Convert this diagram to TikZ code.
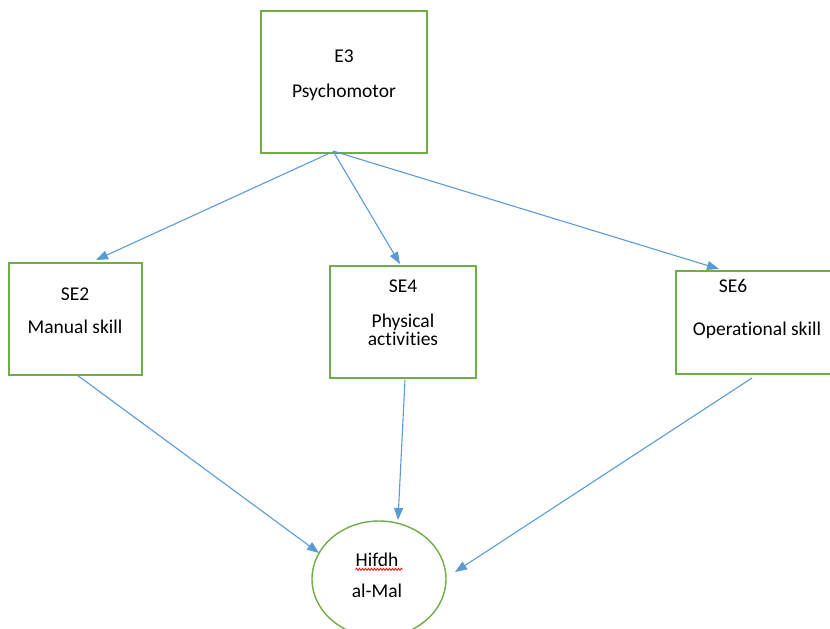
\documentclass[tikz,border=0pt]{standalone}
\usepackage{fontspec}
\setmainfont{Carlito}[RawFeature={-liga;-clig;-dlig;-calt}]
\usetikzlibrary{arrows.meta,decorations.pathmorphing}
\definecolor{boxgreen}{RGB}{112,173,71}
\definecolor{linkblue}{RGB}{91,155,213}
\begin{document}
\begin{tikzpicture}[x=1pt,y=-1pt,
  box/.style={draw=boxgreen,line width=1.4pt,fill=white},
  lbl/.style={anchor=base,inner sep=0pt,font=\fontsize{19.5}{22}\selectfont,text=black},
  link/.style={draw=linkblue,line width=1.1pt,-{Triangle[length=12pt,width=9pt]}}]
\useasboundingbox (0,0) rectangle (830,629);
\begin{scope}
\clip (0,0) rectangle (830,629);
% boxes
\draw[box] (261,11) rectangle (427,153);
\draw[box] (9,263) rectangle (142,375);
\draw[box] (330,266) rectangle (476,378);
\draw[box] (676,271) rectangle (840,374);
\draw[box] (379,579) ellipse [x radius=67, y radius=58];
% anchor points for the connectors
\coordinate (e3a) at (330,153);
\coordinate (e3b) at (333,151);
\coordinate (se2t) at (96,260);
\coordinate (se4t) at (400,264);
\coordinate (se6t) at (719,269);
\coordinate (se2b) at (77,375);
\coordinate (se4b) at (405,380);
\coordinate (se6b) at (752,378);
\coordinate (hl) at (319,553);
\coordinate (ht) at (398,520);
\coordinate (hr) at (455,572);
\draw[link] (e3a) -- (se2t);
\draw[link] (e3b) -- (se4t);
\draw[link] (e3b) -- (se6t);
\draw[link] (se2b) -- (hl);
\draw[link] (se4b) -- (ht);
\draw[link] (se6b) -- (hr);
% labels
\node[lbl] (e3) at (344,62) {E3};
\node[lbl] (psy) at (344,97) {Psychomotor};
\node[lbl] (se2) at (75,300) {SE2};
\node[lbl] (man) at (75,333) {Manual skill};
\node[lbl] (se4) at (403,292) {SE4};
\node[lbl] (phy) at (403,327) {Physical};
\node[lbl] (act) at (403,345) {ac\kern0pt t\kern0pt i\kern0pt vit\kern0pt ies};
\node[lbl] (se6) at (733,292) {SE6};
\node[lbl] (ops) at (757,335) {Operational skill};
\node[lbl] (hif) at (377,566) {Hifdh};
\node[lbl] (mal) at (377,597) {al-Mal};
\draw[red,line width=0.8pt,decorate,decoration={snake,amplitude=1pt,segment length=3pt}]
  (hif.south west) ++(0,3) -- ++(47,0);
\end{scope}
\end{tikzpicture}
\end{document}
